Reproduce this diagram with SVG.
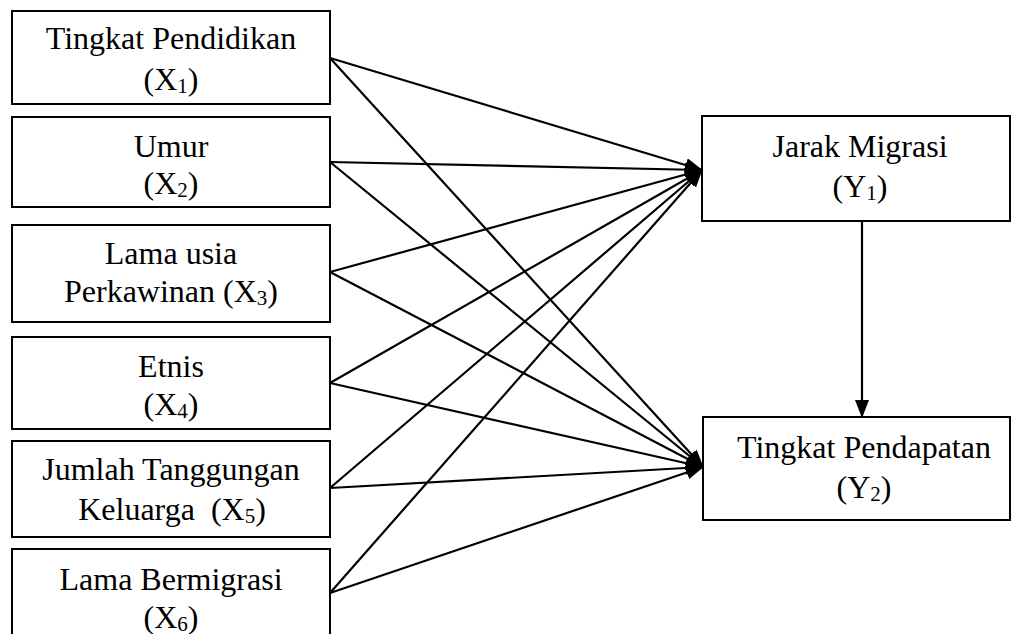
<svg xmlns="http://www.w3.org/2000/svg" width="1011" height="634" viewBox="0 0 1011 634">
<style>
.box{fill:#fff;stroke:#000;stroke-width:2}
.t{font-family:"Liberation Serif","Times New Roman",serif;font-size:32px;fill:#000;text-anchor:middle}
.sub{font-size:21px}
.c{stroke:#000;stroke-width:2.2;fill:none;marker-end:url(#ah)}
</style>
<defs>
<marker id="ah" markerUnits="userSpaceOnUse" markerWidth="18" markerHeight="14" refX="17" refY="7" orient="auto">
<path d="M0,0 L18,7 L0,14 z" fill="#000"/>
</marker>
</defs>
<g id="x1">
<rect class="box" x="12" y="11" width="318" height="93"/>
<text class="t" x="171" y="49">Tingkat Pendidikan</text>
<text class="t" x="171" y="90">(X<tspan class="sub" dy="3">1</tspan><tspan dy="-3">)</tspan></text>
</g>
<g id="x2">
<rect class="box" x="12" y="117" width="318" height="90"/>
<text class="t" x="171" y="157">Umur</text>
<text class="t" x="171" y="194">(X<tspan class="sub" dy="3">2</tspan><tspan dy="-3">)</tspan></text>
</g>
<g id="x3">
<rect class="box" x="12" y="225" width="318" height="97"/>
<text class="t" x="171" y="264">Lama usia</text>
<text class="t" x="171" y="302">Perkawinan (X<tspan class="sub" dy="3">3</tspan><tspan dy="-3">)</tspan></text>
</g>
<g id="x4">
<rect class="box" x="12" y="337" width="318" height="92"/>
<text class="t" x="171" y="377">Etnis</text>
<text class="t" x="171" y="415">(X<tspan class="sub" dy="3">4</tspan><tspan dy="-3">)</tspan></text>
</g>
<g id="x5">
<rect class="box" x="12" y="441" width="318" height="96"/>
<text class="t" x="171" y="480">Jumlah Tanggungan</text>
<text class="t" x="172" y="520" xml:space="preserve">Keluarga  (X<tspan class="sub" dy="3">5</tspan><tspan dy="-3">)</tspan></text>
</g>
<g id="x6">
<rect class="box" x="12" y="549" width="318" height="100"/>
<text class="t" x="171" y="590">Lama Bermigrasi</text>
<text class="t" x="171" y="628">(X<tspan class="sub" dy="3">6</tspan><tspan dy="-3">)</tspan></text>
</g>
<g id="y1">
<rect class="box" x="702" y="116" width="308" height="105"/>
<text class="t" x="860" y="157">Jarak Migrasi</text>
<text class="t" x="860" y="197">(Y<tspan class="sub" dy="3">1</tspan><tspan dy="-3">)</tspan></text>
</g>
<g id="y2">
<rect class="box" x="703" y="417" width="307" height="103"/>
<text class="t" x="864" y="458">Tingkat Pendapatan</text>
<text class="t" x="864" y="498">(Y<tspan class="sub" dy="3">2</tspan><tspan dy="-3">)</tspan></text>
</g>
<g id="connectors">
<line class="c" x1="330" y1="58" x2="702" y2="170"/>
<line class="c" x1="330" y1="58" x2="703" y2="467"/>
<line class="c" x1="330" y1="162" x2="702" y2="170"/>
<line class="c" x1="330" y1="162" x2="703" y2="467"/>
<line class="c" x1="330" y1="272" x2="702" y2="170"/>
<line class="c" x1="330" y1="272" x2="703" y2="467"/>
<line class="c" x1="330" y1="383" x2="702" y2="170"/>
<line class="c" x1="330" y1="383" x2="703" y2="467"/>
<line class="c" x1="330" y1="488" x2="702" y2="170"/>
<line class="c" x1="330" y1="488" x2="703" y2="467"/>
<line class="c" x1="330" y1="593" x2="702" y2="170"/>
<line class="c" x1="330" y1="593" x2="703" y2="467"/>
<line class="c" x1="862" y1="221" x2="862" y2="417"/>
</g>
</svg>
